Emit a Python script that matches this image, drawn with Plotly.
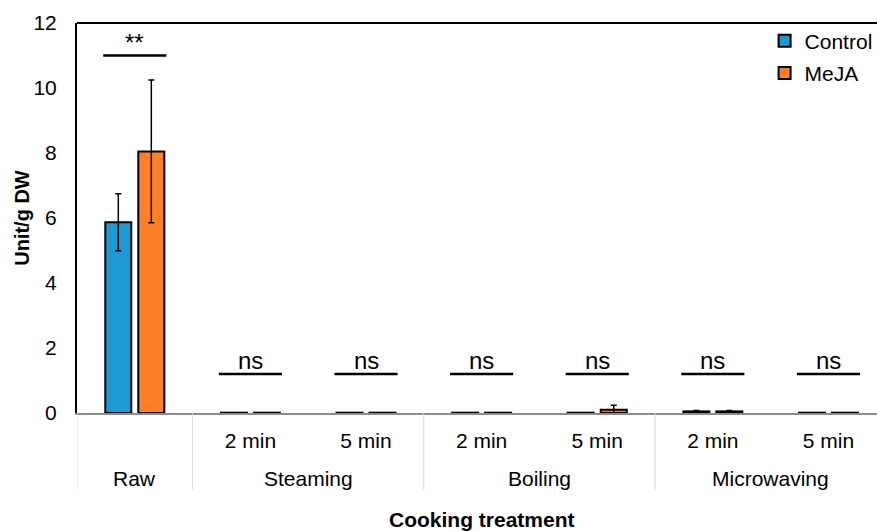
import plotly.graph_objects as go

# Cooking treatments (group label, duration) and their bar values
groups = ["Raw", "Steaming", "Steaming", "Boiling", "Boiling", "Microwaving", "Microwaving"]
durations = ["", "2 min", "5 min", "2 min", "5 min", "2 min", "5 min"]

control = [5.87, 0.01, 0.01, 0.01, 0.01, 0.05, 0.01]
control_err = [0.88, 0, 0, 0, 0, 0.03, 0]
meja = [8.05, 0.01, 0.01, 0.01, 0.10, 0.05, 0.01]
meja_err = [2.20, 0, 0, 0, 0.14, 0.03, 0]

# Significance marks above each treatment
sig_labels = ["**", "ns", "ns", "ns", "ns", "ns", "ns"]
sig_heights = [11.0, 1.2, 1.2, 1.2, 1.2, 1.2, 1.2]

y_ticks = [0, 2, 4, 6, 8, 10, 12]

FONT = "Liberation Sans, Arial, sans-serif"
BLUE = "#1C9AD6"
ORANGE = "#FF7F27"

xpos = list(range(len(groups)))

fig = go.Figure()
fig.add_trace(go.Bar(
    x=xpos, y=control, name="Control", legendgroup="c",
    marker=dict(color=BLUE, line=dict(color="black", width=2)),
    error_y=dict(type="data", array=control_err, color="black", thickness=1.5, width=3),
))
fig.add_trace(go.Bar(
    x=xpos, y=meja, name="MeJA", legendgroup="m",
    marker=dict(color=ORANGE, line=dict(color="black", width=2)),
    error_y=dict(type="data", array=meja_err, color="black", thickness=1.5, width=3),
))

shapes = []
annotations = []

# significance bars and labels
half = 0.273
for i, (lab, h) in enumerate(zip(sig_labels, sig_heights)):
    shapes.append(dict(type="line", xref="x", yref="y", x0=i - half, x1=i + half,
                       y0=h, y1=h, line=dict(color="black", width=2.5)))
    annotations.append(dict(x=i, y=h, xref="x", yref="y", text=lab, showarrow=False,
                            yanchor="bottom", yshift=-2,
                            font=dict(family=FONT, size=24, color="black")))

# group labels and dividers beneath the axis
seen = []
for g in groups:
    if g not in seen:
        seen.append(g)
idx = {g: [i for i, gg in enumerate(groups) if gg == g] for g in seen}
for g in seen:
    members = idx[g]
    center = (members[0] + members[-1]) / 2
    annotations.append(dict(x=center, y=-0.167, xref="x", yref="paper", text=g,
                            showarrow=False, yanchor="middle",
                            font=dict(family=FONT, size=21, color="black")))
    left = members[0] - 0.5
    shapes.append(dict(type="line", xref="x", yref="paper", x0=left, x1=left,
                       y0=0, y1=-0.197, line=dict(color="#D9D9D9", width=1)))

# top frame line
shapes.append(dict(type="line", xref="paper", yref="paper", x0=0, x1=1, y0=1, y1=1,
                   line=dict(color="black", width=2)))

# axis titles
annotations.append(dict(x=3, y=-0.274, xref="x", yref="paper", text="<b>Cooking treatment</b>",
                        showarrow=False, yanchor="middle",
                        font=dict(family=FONT, size=21, color="black")))
annotations.append(dict(x=-0.069, y=0.5, xref="paper", yref="paper", text="<b>Unit/g DW</b>",
                        showarrow=False, textangle=-90, xanchor="center", yanchor="middle",
                        font=dict(family=FONT, size=20, color="black")))

fig.update_layout(
    width=877, height=531,
    margin=dict(l=77, r=0, t=23, b=118, autoexpand=False),
    plot_bgcolor="white", paper_bgcolor="white",
    barmode="group", bargap=0.429, bargroupgap=0.212,
    font=dict(family=FONT, size=21, color="black"),
    showlegend=True,
    legend=dict(x=0.8595, y=1.006, xanchor="left", yanchor="top",
                bgcolor="rgba(0,0,0,0)", tracegroupgap=2,
                font=dict(family=FONT, size=21, color="black")),
    xaxis=dict(range=[-0.5, 6.42], tickmode="array", tickvals=xpos, ticktext=durations,
               showgrid=False, zeroline=False, showline=True, linecolor="#8C8C8C",
               linewidth=2, ticks="", ticklabelstandoff=8,
               tickfont=dict(family=FONT, size=21, color="black")),
    yaxis=dict(range=[0, 12], tickmode="array", tickvals=y_ticks, showgrid=False,
               zeroline=False, showline=True, linecolor="black", linewidth=2, ticks="",
               ticklabelstandoff=14,
               tickfont=dict(family=FONT, size=21, color="black")),
    shapes=shapes, annotations=annotations,
)

fig.write_html("out.html")
